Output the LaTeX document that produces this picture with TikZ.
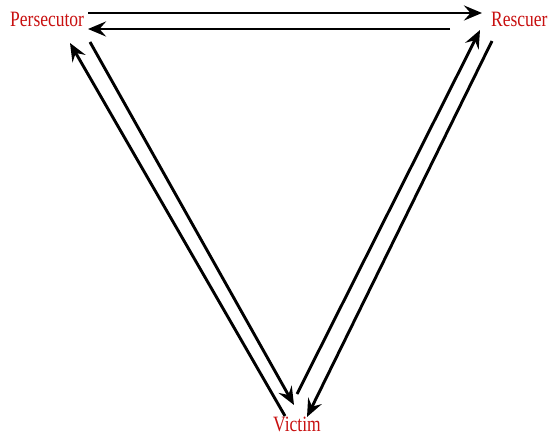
\documentclass[tikz,border=0pt]{standalone}
\usepackage{fontspec}
\setmainfont{Liberation Serif}
\usetikzlibrary{arrows.meta}
\definecolor{rolered}{RGB}{200,16,16}
\newcommand{\tallrole}[1]{\scalebox{1}[1.25]{#1}}
\begin{document}
\begin{tikzpicture}[x=1pt,y=-1pt,
  role/.style={text=rolered,font=\fontsize{17.5}{20}\selectfont,inner sep=0pt},
  link/.style={line width=2.9pt,-{Stealth[length=18pt,width=15pt,inset=6.5pt]}}]
\useasboundingbox (0,0) rectangle (550,436);
\node[role,anchor=base west] (P) at (10,27) {\tallrole{Persecutor}};
\node[role,anchor=base west] (R) at (491,27) {\tallrole{Rescuer}};
\node[role,anchor=base] (V) at (297,431) {\tallrole{Victim}};
% endpoints
\coordinate (pA) at (88,13);
\coordinate (rA) at (482,13);
\coordinate (rB) at (450,29);
\coordinate (pB) at (88,29);
\coordinate (pC) at (70,43);
\coordinate (vC) at (285,416);
\coordinate (pD) at (90,42);
\coordinate (vD) at (294,405);
\coordinate (vE) at (297,394);
\coordinate (rE) at (480,30);
\coordinate (rF) at (492,41);
\coordinate (vF) at (307,417);
\draw[link] (pA) -- (rA);
\draw[link] (rB) -- (pB);
\draw[link] (vC) -- (pC);
\draw[link] (pD) -- (vD);
\draw[link] (vE) -- (rE);
\draw[link] (rF) -- (vF);
\end{tikzpicture}
\end{document}
